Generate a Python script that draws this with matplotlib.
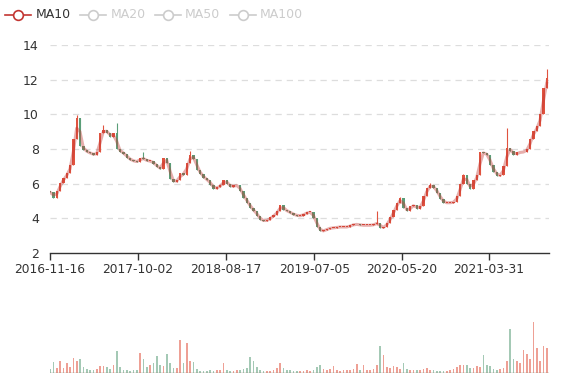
import matplotlib
matplotlib.use("Agg")
import matplotlib.pyplot as plt
import matplotlib.dates as mdates
from matplotlib.lines import Line2D
import numpy as np
import pandas as pd

# closing prices, one candle per ~12 calendar days
closes = [5.5, 5.2, 5.6, 6.05, 6.35, 6.6, 7.1, 8.6, 9.8, 8.2,
          7.95, 7.8, 7.75, 7.65, 7.8, 8.9, 9.1, 8.95, 8.7, 8.9,
          8.0, 7.85, 7.7, 7.5, 7.35, 7.3, 7.25, 7.5, 7.4, 7.3,
          7.3, 7.15, 6.95, 6.85, 7.5, 7.2, 6.25, 6.1, 6.2, 6.6,
          6.5, 7.2, 7.65, 7.4, 6.8, 6.55, 6.3, 6.2, 5.95, 5.7,
          5.8, 5.9, 6.2, 6.0, 5.8, 5.9, 5.9, 5.55, 5.2, 4.9,
          4.6, 4.4, 4.15, 3.9, 3.85, 3.9, 4.05, 4.2, 4.4, 4.75,
          4.5, 4.4, 4.3, 4.2, 4.15, 4.15, 4.25, 4.35, 4.35, 4.0,
          3.5, 3.25, 3.3, 3.4, 3.45, 3.45, 3.5, 3.5, 3.5, 3.5,
          3.6, 3.65, 3.65, 3.6, 3.6, 3.6, 3.6, 3.65, 3.75, 3.45,
          3.5, 3.75, 4.1, 4.5, 4.9, 5.15, 4.6, 4.4, 4.7, 4.75,
          4.55, 4.7, 5.3, 5.75, 5.95, 5.75, 5.45, 5.1, 4.9, 4.9,
          4.9, 4.95, 5.3, 6.0, 6.5, 6.0, 5.7, 6.2, 6.5, 7.8,
          7.75, 7.65, 7.05, 6.7, 6.45, 6.5, 7.0, 8.05, 7.9, 7.65,
          7.8, 7.8, 7.85, 8.0, 8.6, 9.05, 9.3, 10.0, 11.5, 12.1]

# a few visible intraday spikes: candle index -> high
spike_highs = {8: 9.95, 16: 9.4, 20: 9.5, 28: 7.8, 42: 7.9, 98: 4.4,
               105: 5.25, 114: 6.05, 124: 6.55, 137: 9.2, 149: 12.6}

# volume, in the same units as the picture's bar heights
volumes = [4, 11, 5, 12, 5, 10, 6, 15, 12, 14, 6, 4, 3, 3, 4, 7, 7, 6, 4, 8,
           22, 6, 3, 3, 2, 3, 3, 20, 14, 6, 8, 10, 17, 8, 7, 19, 10, 5, 5, 33,
           10, 30, 12, 11, 4, 2, 2, 2, 3, 2, 3, 3, 10, 3, 2, 2, 3, 3, 4, 5,
           16, 12, 6, 3, 2, 2, 2, 3, 5, 10, 5, 3, 3, 2, 2, 2, 2, 3, 2, 3,
           6, 8, 4, 3, 4, 7, 3, 2, 3, 3, 3, 4, 9, 3, 8, 3, 3, 4, 8, 27,
           18, 6, 5, 7, 6, 4, 10, 4, 3, 3, 3, 3, 4, 5, 3, 3, 2, 2, 2, 2,
           3, 4, 6, 8, 8, 8, 5, 5, 7, 6, 18, 8, 7, 4, 3, 4, 5, 12, 44, 14,
           12, 10, 23, 19, 14, 51, 25, 12, 27, 25]

tick_labels = ["2016-11-16", "2017-10-02", "2018-08-17",
               "2019-07-05", "2020-05-20", "2021-03-31"]
legend_names = ["MA10", "MA20", "MA50", "MA100"]

up_color = "#e0533f"
down_color = "#5a9e78"
ma_color = "#c23531"

start = pd.Timestamp("2016-11-16")
n = len(closes)
step = 12.125
dates = start + pd.to_timedelta(np.arange(n) * step, unit="D")
x = mdates.date2num(dates)

c = np.array(closes)
o = np.concatenate([[c[0] + 0.1], c[:-1]])
hi = np.maximum(o, c)
lo = np.minimum(o, c)
for k, v in spike_highs.items():
    hi[k] = max(hi[k], v)
up = c >= o
colors = np.where(up, up_color, down_color)

W, H = 577, 380
fig = plt.figure(figsize=(W / 100, H / 100), dpi=100)

left, right = 50 / W, 549 / W
ax = fig.add_axes([left, 1 - 253 / H, right - left, (253 - 45) / H])
axv = fig.add_axes([left, 1 - 372.5 / H, right - left, 60.5 / H])

# dashed grid
for v in range(4, 15, 2):
    ax.axhline(v, color="#dddddd", lw=0.9, ls=(0, (5, 4)), zorder=0)

# candles
ax.vlines(x, lo, hi, colors=colors, lw=0.8, zorder=2)
body = np.maximum(np.abs(c - o), 0.05)
ax.bar(x, body, bottom=np.minimum(o, c), width=step * 0.7,
       color=colors, linewidth=0, zorder=2)

# MA line (rolling mean of the closes)
ma = pd.Series(c).rolling(2, min_periods=1).mean()
ax.plot(x, ma, color=ma_color, alpha=0.4, lw=2.2, zorder=3)

xlim = (mdates.date2num(start), mdates.date2num(start + pd.Timedelta(days=1815)))
ax.set_xlim(xlim)
ax.set_ylim(2, 14)
ax.set_yticks(range(2, 15, 2))
tick_pos = mdates.date2num(pd.to_datetime(tick_labels))
ax.set_xticks(tick_pos, labels=tick_labels)
for s in ["top", "right", "left"]:
    ax.spines[s].set_visible(False)
ax.spines["bottom"].set_color("#333333")
ax.spines["bottom"].set_linewidth(1)
ax.tick_params(axis="y", length=0, labelsize=9, colors="#333333", pad=8)
ax.tick_params(axis="x", length=5, width=1, color="#333333",
               labelsize=8.8, labelcolor="#333333", pad=2)

# volume
axv.bar(x, volumes, width=step * 0.5, color=colors, alpha=0.55, linewidth=0)
axv.set_xlim(xlim)
axv.set_ylim(0, 60.5)
axv.axis("off")
axv.axhline(0, color="#8a8070", lw=1)

# legend (only MA10 active)
icon_x = [5, 80, 155, 230]
text_x = [36, 110.5, 185, 260]
ly = 1 - 15 / H
for i, name in enumerate(legend_names):
    col = ma_color if i == 0 else "#cccccc"
    tcol = "#333333" if i == 0 else "#cccccc"
    fig.add_artist(Line2D([icon_x[i] / W, (icon_x[i] + 26) / W], [ly, ly],
                          color=col, lw=1.2, transform=fig.transFigure))
    fig.add_artist(Line2D([(icon_x[i] + 13) / W], [ly], marker="o",
                          markersize=7, markerfacecolor="white",
                          markeredgecolor=col, markeredgewidth=1.2,
                          transform=fig.transFigure))
    fig.text(text_x[i] / W, ly, name, color=tcol, fontsize=9,
             va="center", ha="left")

fig.savefig("out.png", dpi=100)
